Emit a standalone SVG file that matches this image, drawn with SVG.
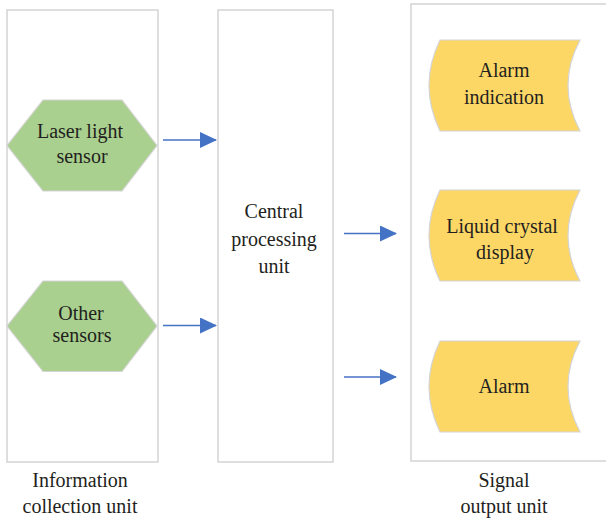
<svg xmlns="http://www.w3.org/2000/svg" width="606" height="522" viewBox="0 0 606 522">
<defs>
<style>
.unit{fill:#fff;stroke:#d4d4d4;stroke-width:1.5}
.hex{fill:#a9d08e;stroke:#d4d4d4;stroke-width:1.2}
.doc{fill:#fdd766;stroke:#d4d4d4;stroke-width:1.2}
.conn{stroke:#4472c4;stroke-width:1.5;fill:none;marker-end:url(#ah)}
text{font-family:"Liberation Serif","Times New Roman",serif;font-size:20px;fill:#231f20;text-anchor:middle}
</style>
<marker id="ah" viewBox="0 0 17 16" refX="16" refY="8" markerWidth="17" markerHeight="16" markerUnits="userSpaceOnUse" orient="auto">
<path d="M0,0 L17,8 L0,16 Z" fill="#4472c4"/>
</marker>
</defs>
<g id="info-unit">
<rect class="unit" x="7" y="10" width="151" height="452"/>
<text x="80" y="487">Information</text>
<text x="80" y="513">collection unit</text>
</g>
<g id="cpu">
<rect class="unit" x="218" y="10" width="115" height="452"/>
<text x="274" y="218">Central</text>
<text x="274" y="246">processing</text>
<text x="274" y="273">unit</text>
</g>
<g id="output-unit">
<rect class="unit" x="411" y="4" width="196" height="457"/>
<text x="504" y="487">Signal</text>
<text x="504" y="513">output unit</text>
</g>
<g id="laser">
<polygon class="hex" points="43,100 122,100 157,145.5 122,191 43,191 7,145.5"/>
<text x="80" y="138">Laser light</text>
<text x="82" y="163">sensor</text>
</g>
<g id="other">
<polygon class="hex" points="43,281 122,281 157,326 122,371.5 43,371.5 7,326"/>
<text x="81" y="320">Other</text>
<text x="82" y="342">sensors</text>
</g>
<g id="alarm-indication">
<path class="doc" d="M440,40 L580,40 Q556,85.5 580,131 L440,131 Q418,85.5 440,40 Z"/>
<text x="504" y="77">Alarm</text>
<text x="504" y="104">indication</text>
</g>
<g id="lcd">
<path class="doc" d="M440,190 L580,190 Q556,235.5 580,281 L440,281 Q418,235.5 440,190 Z"/>
<text x="502" y="233">Liquid crystal</text>
<text x="505" y="259">display</text>
</g>
<g id="alarm">
<path class="doc" d="M440,341 L580,341 Q556,386.5 580,432 L440,432 Q418,386.5 440,341 Z"/>
<text x="504" y="393">Alarm</text>
</g>
<g id="connectors">
<line class="conn" x1="163" y1="140" x2="216" y2="140"/>
<line class="conn" x1="163" y1="325.5" x2="216" y2="325.5"/>
<line class="conn" x1="344" y1="233.5" x2="396" y2="233.5"/>
<line class="conn" x1="344" y1="377" x2="396" y2="377"/>
</g>
</svg>
